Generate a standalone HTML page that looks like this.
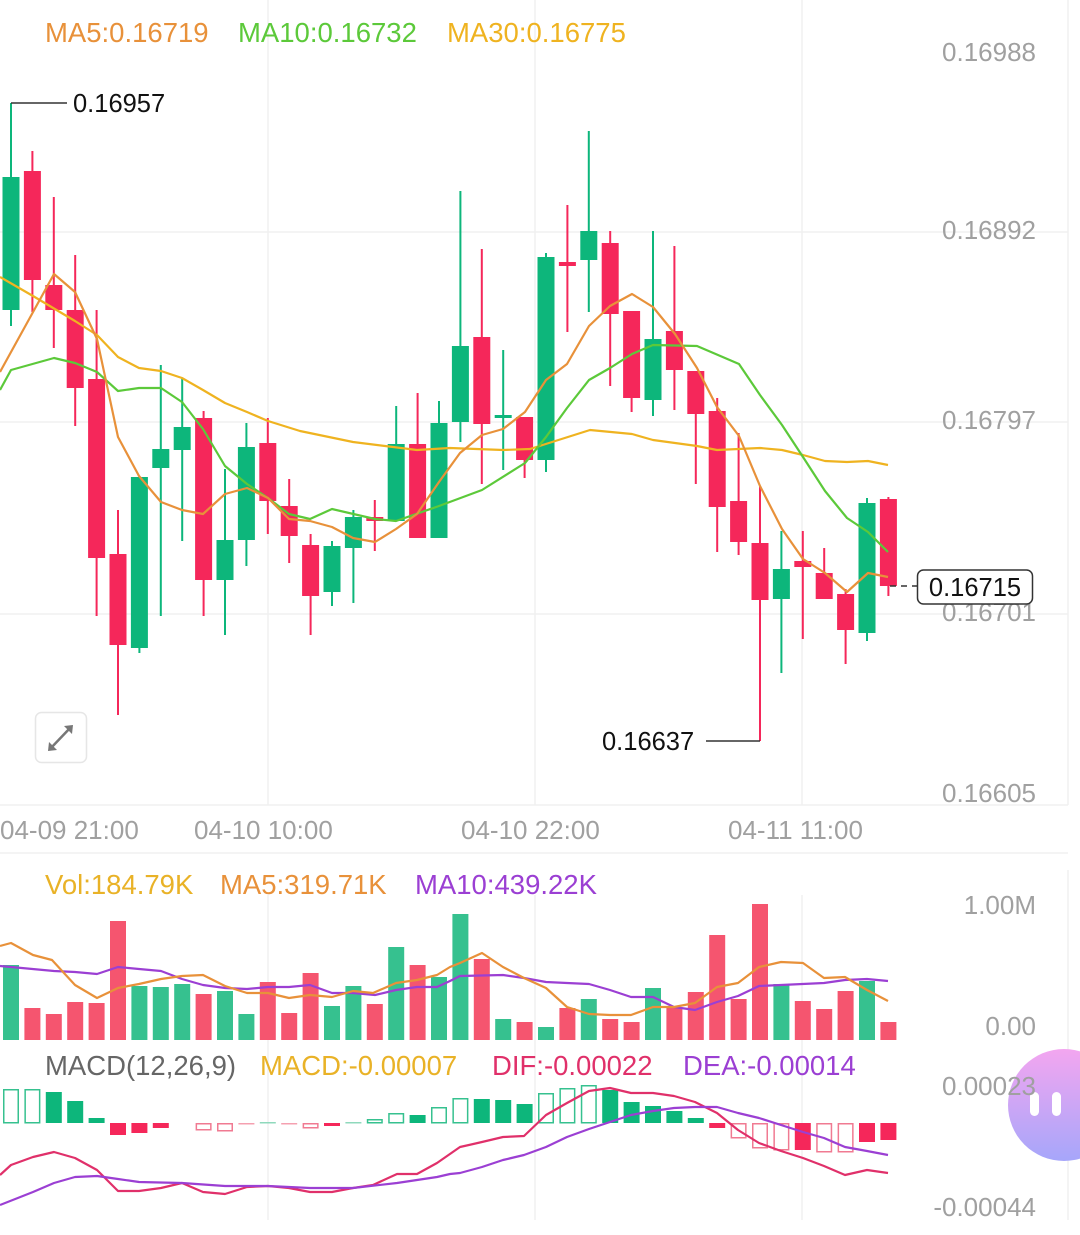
<!DOCTYPE html>
<html><head><meta charset="utf-8"><style>
html,body{margin:0;padding:0;background:#fff;}
svg{display:block;font-family:"Liberation Sans",sans-serif;}
</style></head><body>
<svg width="1080" height="1235" viewBox="0 0 1080 1235" xmlns="http://www.w3.org/2000/svg">
<rect width="1080" height="1235" fill="#fff"/>
<!-- grid -->
<g stroke="#f0f0f0" stroke-width="1.5" fill="none">
<line x1="0" y1="232" x2="1068" y2="232"/>
<line x1="0" y1="422" x2="1068" y2="422"/>
<line x1="0" y1="614" x2="1068" y2="614"/>
<line x1="0" y1="805" x2="1068" y2="805"/>
<line x1="0" y1="853" x2="1068" y2="853"/>
<line x1="268" y1="0" x2="268" y2="805"/>
<line x1="535" y1="0" x2="535" y2="805"/>
<line x1="802" y1="0" x2="802" y2="805"/>
<line x1="268" y1="895" x2="268" y2="1220"/>
<line x1="535" y1="895" x2="535" y2="1220"/>
<line x1="802" y1="895" x2="802" y2="1220"/>
<line x1="1068" y1="0" x2="1068" y2="805"/>
<line x1="1068" y1="870" x2="1068" y2="1220"/>
</g>
<!-- legends -->
<g font-size="27.5">
<text x="45" y="42" fill="#e8913a">MA5:0.16719</text>
<text x="238" y="42" fill="#5cc93a">MA10:0.16732</text>
<text x="447" y="42" fill="#efb320">MA30:0.16775</text>
<text x="45" y="894" fill="#e9b227">Vol:184.79K</text>
<text x="220" y="894" fill="#e8913a">MA5:319.71K</text>
<text x="415" y="894" fill="#9b3fd3">MA10:439.22K</text>
<text x="45" y="1075" fill="#666">MACD(12,26,9)</text>
<text x="260" y="1075" fill="#e9b227">MACD:-0.00007</text>
<text x="492" y="1075" fill="#e0306a">DIF:-0.00022</text>
<text x="683" y="1075" fill="#9b3fd3">DEA:-0.00014</text>
</g>
<g font-size="26" fill="#a0a0a0">
<text x="0" y="839">04-09 21:00</text>
<text x="194" y="839">04-10 10:00</text>
<text x="461" y="839">04-10 22:00</text>
<text x="728" y="839">04-11 11:00</text>
</g>
<!-- candles -->
<g id="c">
<g fill="#0db67b"><rect x="10" y="103" width="2" height="223"/><rect x="2.5" y="177" width="17" height="133"/></g>
<g fill="#f5275a"><rect x="31.4" y="151" width="2" height="161"/><rect x="23.9" y="171" width="17" height="109"/></g>
<g fill="#f5275a"><rect x="52.8" y="197" width="2" height="151"/><rect x="45.3" y="285" width="17" height="25"/></g>
<g fill="#f5275a"><rect x="74.2" y="255" width="2" height="171"/><rect x="66.7" y="310" width="17" height="78"/></g>
<g fill="#f5275a"><rect x="95.6" y="310" width="2" height="306"/><rect x="88.1" y="379" width="17" height="179"/></g>
<g fill="#f5275a"><rect x="117" y="510" width="2" height="205"/><rect x="109.5" y="554" width="17" height="91"/></g>
<g fill="#0db67b"><rect x="138.4" y="477" width="2" height="176"/><rect x="130.9" y="477" width="17" height="171"/></g>
<g fill="#0db67b"><rect x="159.8" y="365" width="2" height="251"/><rect x="152.3" y="449" width="17" height="19"/></g>
<g fill="#0db67b"><rect x="181.2" y="378" width="2" height="163"/><rect x="173.7" y="427" width="17" height="23"/></g>
<g fill="#f5275a"><rect x="202.6" y="411" width="2" height="205"/><rect x="195.1" y="418" width="17" height="162"/></g>
<g fill="#0db67b"><rect x="224" y="469" width="2" height="166"/><rect x="216.5" y="540" width="17" height="40"/></g>
<g fill="#0db67b"><rect x="245.4" y="423" width="2" height="143"/><rect x="237.9" y="447" width="17" height="93"/></g>
<g fill="#f5275a"><rect x="266.8" y="418" width="2" height="116"/><rect x="259.3" y="443" width="17" height="58"/></g>
<g fill="#f5275a"><rect x="288.2" y="479" width="2" height="84"/><rect x="280.7" y="506" width="17" height="30"/></g>
<g fill="#f5275a"><rect x="309.6" y="534" width="2" height="101"/><rect x="302.1" y="545" width="17" height="51"/></g>
<g fill="#0db67b"><rect x="331" y="541" width="2" height="65"/><rect x="323.5" y="546" width="17" height="46"/></g>
<g fill="#0db67b"><rect x="352.4" y="510" width="2" height="93"/><rect x="344.9" y="517" width="17" height="31"/></g>
<g fill="#f5275a"><rect x="373.8" y="500" width="2" height="51"/><rect x="366.3" y="517" width="17" height="4"/></g>
<g fill="#0db67b"><rect x="395.2" y="406" width="2" height="115"/><rect x="387.7" y="444" width="17" height="77"/></g>
<g fill="#f5275a"><rect x="416.6" y="393" width="2" height="145"/><rect x="409.1" y="444" width="17" height="94"/></g>
<g fill="#0db67b"><rect x="438" y="401" width="2" height="137"/><rect x="430.5" y="423" width="17" height="115"/></g>
<g fill="#0db67b"><rect x="459.4" y="191" width="2" height="251"/><rect x="451.9" y="346" width="17" height="76"/></g>
<g fill="#f5275a"><rect x="480.8" y="249" width="2" height="235"/><rect x="473.3" y="337" width="17" height="87"/></g>
<g fill="#0db67b"><rect x="502.2" y="350" width="2" height="120"/><rect x="494.7" y="415" width="17" height="3"/></g>
<g fill="#f5275a"><rect x="523.6" y="417" width="2" height="61"/><rect x="516.1" y="417" width="17" height="43"/></g>
<g fill="#0db67b"><rect x="545" y="253" width="2" height="219"/><rect x="537.5" y="257" width="17" height="203"/></g>
<g fill="#f5275a"><rect x="566.4" y="205" width="2" height="127"/><rect x="558.9" y="262" width="17" height="4"/></g>
<g fill="#0db67b"><rect x="587.8" y="131" width="2" height="181"/><rect x="580.3" y="231" width="17" height="29"/></g>
<g fill="#f5275a"><rect x="609.2" y="231" width="2" height="155"/><rect x="601.7" y="243" width="17" height="71"/></g>
<g fill="#f5275a"><rect x="630.6" y="311" width="2" height="101"/><rect x="623.1" y="311" width="17" height="87"/></g>
<g fill="#0db67b"><rect x="652" y="231" width="2" height="185"/><rect x="644.5" y="339" width="17" height="61"/></g>
<g fill="#f5275a"><rect x="673.4" y="246" width="2" height="164"/><rect x="665.9" y="331" width="17" height="39"/></g>
<g fill="#f5275a"><rect x="694.8" y="371" width="2" height="113"/><rect x="687.3" y="371" width="17" height="43"/></g>
<g fill="#f5275a"><rect x="716.2" y="398" width="2" height="154"/><rect x="708.7" y="411" width="17" height="96"/></g>
<g fill="#f5275a"><rect x="737.6" y="433" width="2" height="122"/><rect x="730.1" y="501" width="17" height="41"/></g>
<g fill="#f5275a"><rect x="759" y="486" width="2" height="255"/><rect x="751.5" y="543" width="17" height="57"/></g>
<g fill="#0db67b"><rect x="780.4" y="531" width="2" height="142"/><rect x="772.9" y="569" width="17" height="30"/></g>
<g fill="#f5275a"><rect x="801.8" y="531" width="2" height="108"/><rect x="794.3" y="561" width="17" height="6"/></g>
<g fill="#f5275a"><rect x="823.2" y="548" width="2" height="51"/><rect x="815.7" y="573" width="17" height="26"/></g>
<g fill="#f5275a"><rect x="844.6" y="589" width="2" height="75"/><rect x="837.1" y="594" width="17" height="36"/></g>
<g fill="#0db67b"><rect x="866" y="498" width="2" height="143"/><rect x="858.5" y="503" width="17" height="130"/></g>
<g fill="#f5275a"><rect x="887.4" y="497" width="2" height="99"/><rect x="879.9" y="499" width="17" height="87"/></g>
</g>
<!-- MA lines -->
<g fill="none" stroke-width="2.2" stroke-linejoin="round">
<polyline stroke="#efb320" points="0,277 33,296 75,321 97,335 118,357 139,368 161,371 182,378 203,390 225,403 247,412 268,421 300,431 353,442 417,450 450,448 503,450 530,449 590,430 632,434 653,440 697,446 717,450 760,448 782,450 803,455 825,461 847,462 868,461 888,465"/>
<polyline stroke="#5cc93a" points="0,390 11,370 54,358 75,363 97,372 118,391 139,388 161,388 182,402 203,429 225,466 247,484 268,498 289,514 310,519 332,509 375,519 396,521 439,506 482,490 525,463 546,437 567,408 589,380 610,368 632,354 653,345 697,346 739,364 760,395 782,425 803,457 825,491 847,518 868,532 888,552"/>
<polyline stroke="#e8913a" points="0,372 54,274 75,292 97,339 118,437 139,476 161,502 182,510 203,514 225,494 247,488 268,498 289,519 310,521 332,527 353,538 375,542 396,529 417,514 439,482 460,453 482,435 503,429 525,412 546,380 567,364 589,326 610,306 632,294 653,307 675,334 697,368 717,407 739,436 760,486 782,529 803,559 825,573 847,592 868,573 888,577"/>
</g>
<!-- high/low markers -->
<line x1="11" y1="103" x2="67" y2="103" stroke="#333" stroke-width="1.5"/>
<text x="73" y="112" font-size="25.5" fill="#111">0.16957</text>
<line x1="706" y1="741" x2="760" y2="741" stroke="#333" stroke-width="1.5"/>
<text x="602" y="750" font-size="25.5" fill="#111">0.16637</text>
<!-- expand button -->
<rect x="35.5" y="712.5" width="51" height="50" rx="6" fill="#fff" stroke="#e6e6e6" stroke-width="1.5"/>
<g stroke="#777" stroke-width="2.5" fill="none"><line x1="50" y1="749" x2="71" y2="727"/></g>
<polygon points="73,725 64,726 72,734" fill="#777"/>
<polygon points="48,751 57,750 49,742" fill="#777"/>
<!-- volume -->
<g>
<rect x="3" y="965" width="16" height="75" fill="#36c18f"/>
<rect x="24.4" y="1008" width="16" height="32" fill="#f5556f"/>
<rect x="45.8" y="1014" width="16" height="26" fill="#f5556f"/>
<rect x="67.2" y="1002" width="16" height="38" fill="#f5556f"/>
<rect x="88.6" y="1003" width="16" height="37" fill="#f5556f"/>
<rect x="110" y="921" width="16" height="119" fill="#f5556f"/>
<rect x="131.4" y="986" width="16" height="54" fill="#36c18f"/>
<rect x="152.8" y="987" width="16" height="53" fill="#36c18f"/>
<rect x="174.2" y="984" width="16" height="56" fill="#36c18f"/>
<rect x="195.6" y="994" width="16" height="46" fill="#f5556f"/>
<rect x="217" y="991" width="16" height="49" fill="#36c18f"/>
<rect x="238.4" y="1014" width="16" height="26" fill="#36c18f"/>
<rect x="259.8" y="982" width="16" height="58" fill="#f5556f"/>
<rect x="281.2" y="1013" width="16" height="27" fill="#f5556f"/>
<rect x="302.6" y="973" width="16" height="67" fill="#f5556f"/>
<rect x="324" y="1006" width="16" height="34" fill="#36c18f"/>
<rect x="345.4" y="986" width="16" height="54" fill="#36c18f"/>
<rect x="366.8" y="1004" width="16" height="36" fill="#f5556f"/>
<rect x="388.2" y="947" width="16" height="93" fill="#36c18f"/>
<rect x="409.6" y="965" width="16" height="75" fill="#f5556f"/>
<rect x="431" y="977" width="16" height="63" fill="#36c18f"/>
<rect x="452.4" y="914" width="16" height="126" fill="#36c18f"/>
<rect x="473.8" y="959" width="16" height="81" fill="#f5556f"/>
<rect x="495.2" y="1019" width="16" height="21" fill="#36c18f"/>
<rect x="516.6" y="1022" width="16" height="18" fill="#f5556f"/>
<rect x="538" y="1027" width="16" height="13" fill="#36c18f"/>
<rect x="559.4" y="1008" width="16" height="32" fill="#f5556f"/>
<rect x="580.8" y="999" width="16" height="41" fill="#36c18f"/>
<rect x="602.2" y="1019" width="16" height="21" fill="#f5556f"/>
<rect x="623.6" y="1022" width="16" height="18" fill="#f5556f"/>
<rect x="645" y="988" width="16" height="52" fill="#36c18f"/>
<rect x="666.4" y="1007" width="16" height="33" fill="#f5556f"/>
<rect x="687.8" y="992" width="16" height="48" fill="#f5556f"/>
<rect x="709.2" y="935" width="16" height="105" fill="#f5556f"/>
<rect x="730.6" y="999" width="16" height="41" fill="#f5556f"/>
<rect x="752" y="904" width="16" height="136" fill="#f5556f"/>
<rect x="773.4" y="984" width="16" height="56" fill="#36c18f"/>
<rect x="794.8" y="1001" width="16" height="39" fill="#f5556f"/>
<rect x="816.2" y="1009" width="16" height="31" fill="#f5556f"/>
<rect x="837.6" y="991" width="16" height="49" fill="#f5556f"/>
<rect x="859" y="981" width="16" height="59" fill="#36c18f"/>
<rect x="880.4" y="1022" width="16" height="18" fill="#f5556f"/>
</g>
<g fill="none" stroke-width="2.2" stroke-linejoin="round">
<polyline stroke="#9b3fd3" points="0,966 11,967 54,971 75,972 97,974 118,967 139,969 161,971 182,979 203,985 225,988 247,989 268,987 289,987 310,985 332,993 353,993 375,995 396,990 417,987 437,987 450,981 460,976 503,975 524,978 546,982 567,983 589,984 610,990 631,997 653,997 674,1007 695,1010 717,1002 738,996 759,986 781,985 824,983 845,980 867,979 888,981"/>
<polyline stroke="#e8913a" points="0,946 11,943 33,955 52,960 75,985 97,998 118,988 139,984 161,979 182,976 203,975 225,986 247,993 268,993 289,998 310,995 332,997 353,991 373,993 396,983 417,980 437,975 450,967 460,963 482,953 503,967 524,978 546,988 567,1007 589,1014 610,1015 631,1015 653,1007 674,1007 695,1003 717,987 738,983 759,967 781,962 803,963 824,978 845,977 867,990 888,1001"/>
</g>
<!-- MACD histogram -->
<g stroke-width="1.5">
<rect x="3.75" y="1089.75" width="14.5" height="33" fill="none" stroke="#36c18f"/>
<rect x="25.15" y="1089.75" width="14.5" height="33" fill="none" stroke="#36c18f"/>
<rect x="45.8" y="1092" width="16" height="31" fill="#0db67b"/>
<rect x="67.2" y="1101" width="16" height="22" fill="#0db67b"/>
<rect x="88.6" y="1118" width="16" height="5" fill="#0db67b"/>
<rect x="110" y="1123" width="16" height="12" fill="#f5275a"/>
<rect x="131.4" y="1123" width="16" height="10" fill="#f5275a"/>
<rect x="152.8" y="1123" width="16" height="5" fill="#f5275a"/>
<rect x="196.35" y="1123.75" width="14.5" height="6" fill="none" stroke="#f07a92"/>
<rect x="217.75" y="1123.75" width="14.5" height="7" fill="none" stroke="#f07a92"/>
<rect x="238.4" y="1123" width="16" height="1.5" fill="#f5a0b0"/>
<rect x="259.8" y="1122" width="16" height="1.5" fill="#8fd9bc"/>
<rect x="281.2" y="1123" width="16" height="1.5" fill="#f5a0b0"/>
<rect x="303.35" y="1123.75" width="14.5" height="4" fill="none" stroke="#f07a92"/>
<rect x="324" y="1123" width="16" height="3" fill="#f5275a"/>
<rect x="345.4" y="1122" width="16" height="1.5" fill="#8fd9bc"/>
<rect x="367.55" y="1119.75" width="14.5" height="3" fill="none" stroke="#36c18f"/>
<rect x="388.95" y="1113.75" width="14.5" height="9" fill="none" stroke="#36c18f"/>
<rect x="409.6" y="1115" width="16" height="8" fill="#0db67b"/>
<rect x="431.75" y="1107.75" width="14.5" height="15" fill="none" stroke="#36c18f"/>
<rect x="453.15" y="1098.75" width="14.5" height="24" fill="none" stroke="#36c18f"/>
<rect x="473.8" y="1099" width="16" height="24" fill="#0db67b"/>
<rect x="495.2" y="1100" width="16" height="23" fill="#0db67b"/>
<rect x="516.6" y="1104" width="16" height="19" fill="#0db67b"/>
<rect x="538.75" y="1093.75" width="14.5" height="29" fill="none" stroke="#36c18f"/>
<rect x="560.15" y="1088.75" width="14.5" height="34" fill="none" stroke="#36c18f"/>
<rect x="581.55" y="1085.75" width="14.5" height="37" fill="none" stroke="#36c18f"/>
<rect x="602.2" y="1090" width="16" height="33" fill="#0db67b"/>
<rect x="623.6" y="1102" width="16" height="21" fill="#0db67b"/>
<rect x="645" y="1106" width="16" height="17" fill="#0db67b"/>
<rect x="666.4" y="1111" width="16" height="12" fill="#0db67b"/>
<rect x="687.8" y="1118" width="16" height="5" fill="#0db67b"/>
<rect x="709.2" y="1123" width="16" height="5" fill="#f5275a"/>
<rect x="731.35" y="1123.75" width="14.5" height="14" fill="none" stroke="#f07a92"/>
<rect x="752.75" y="1123.75" width="14.5" height="24" fill="none" stroke="#f07a92"/>
<rect x="774.15" y="1123.75" width="14.5" height="26" fill="none" stroke="#f07a92"/>
<rect x="794.8" y="1123" width="16" height="27" fill="#f5275a"/>
<rect x="816.95" y="1123.75" width="14.5" height="28" fill="none" stroke="#f07a92"/>
<rect x="838.35" y="1123.75" width="14.5" height="28" fill="none" stroke="#f07a92"/>
<rect x="859" y="1123" width="16" height="19" fill="#f5275a"/>
<rect x="880.4" y="1123" width="16" height="17" fill="#f5275a"/>
</g>
<g fill="none" stroke-width="2.2" stroke-linejoin="round">
<polyline stroke="#e0306a" points="0,1175 11,1165 33,1157 54,1152 75,1158 97,1170 118,1191 139,1191 161,1188 182,1183 203,1192 225,1194 247,1187 268,1186 289,1188 310,1192 332,1192 353,1188 373,1185 397,1174 417,1174 437,1163 460,1147 482,1142 503,1137 524,1136 546,1115 567,1103 589,1091 610,1088 631,1093 653,1093 674,1096 695,1102 717,1113 738,1130 759,1143 781,1151 803,1158 824,1166 845,1175 867,1170 888,1173"/>
<polyline stroke="#9b3fd3" points="0,1205 33,1192 54,1183 75,1177 97,1176 118,1179 139,1182 182,1183 225,1186 268,1186 310,1188 353,1188 397,1183 437,1177 450,1174 460,1173 482,1167 503,1160 524,1155 546,1147 567,1137 589,1129 610,1122 631,1115 653,1111 674,1108 695,1107 717,1107 738,1113 759,1118 781,1125 803,1132 824,1138 845,1147 867,1151 888,1155"/>
</g>
<!-- floating bubble -->
<defs><linearGradient id="bg" x1="0" y1="0" x2="0" y2="1"><stop offset="0" stop-color="#f3a6f0"/><stop offset="1" stop-color="#a6a6fa"/></linearGradient></defs>
<circle cx="1064" cy="1105" r="56" fill="url(#bg)"/>
<rect x="1030" y="1092" width="9" height="24" rx="4.5" fill="#fff"/>
<rect x="1052" y="1092" width="9" height="24" rx="4.5" fill="#fff"/>
<!-- right axis (drawn over bubble) -->
<g font-size="26" fill="#a0a0a0" text-anchor="end">
<text x="1036" y="61">0.16988</text>
<text x="1036" y="239">0.16892</text>
<text x="1036" y="429">0.16797</text>
<text x="1036" y="621">0.16701</text>
<text x="1036" y="802">0.16605</text>
<text x="1036" y="914">1.00M</text>
<text x="1036" y="1035">0.00</text>
<text x="1036" y="1095">0.00023</text>
<text x="1036" y="1216">-0.00044</text>
</g>
<!-- current price -->
<line x1="890" y1="586" x2="917" y2="586" stroke="#333" stroke-width="1.5" stroke-dasharray="6,5"/>
<rect x="917.5" y="570" width="115" height="34" rx="6" fill="#fff" stroke="#333" stroke-width="1.5"/>
<text x="975" y="596" font-size="25.5" fill="#111" text-anchor="middle">0.16715</text>
</svg>
</body></html>
